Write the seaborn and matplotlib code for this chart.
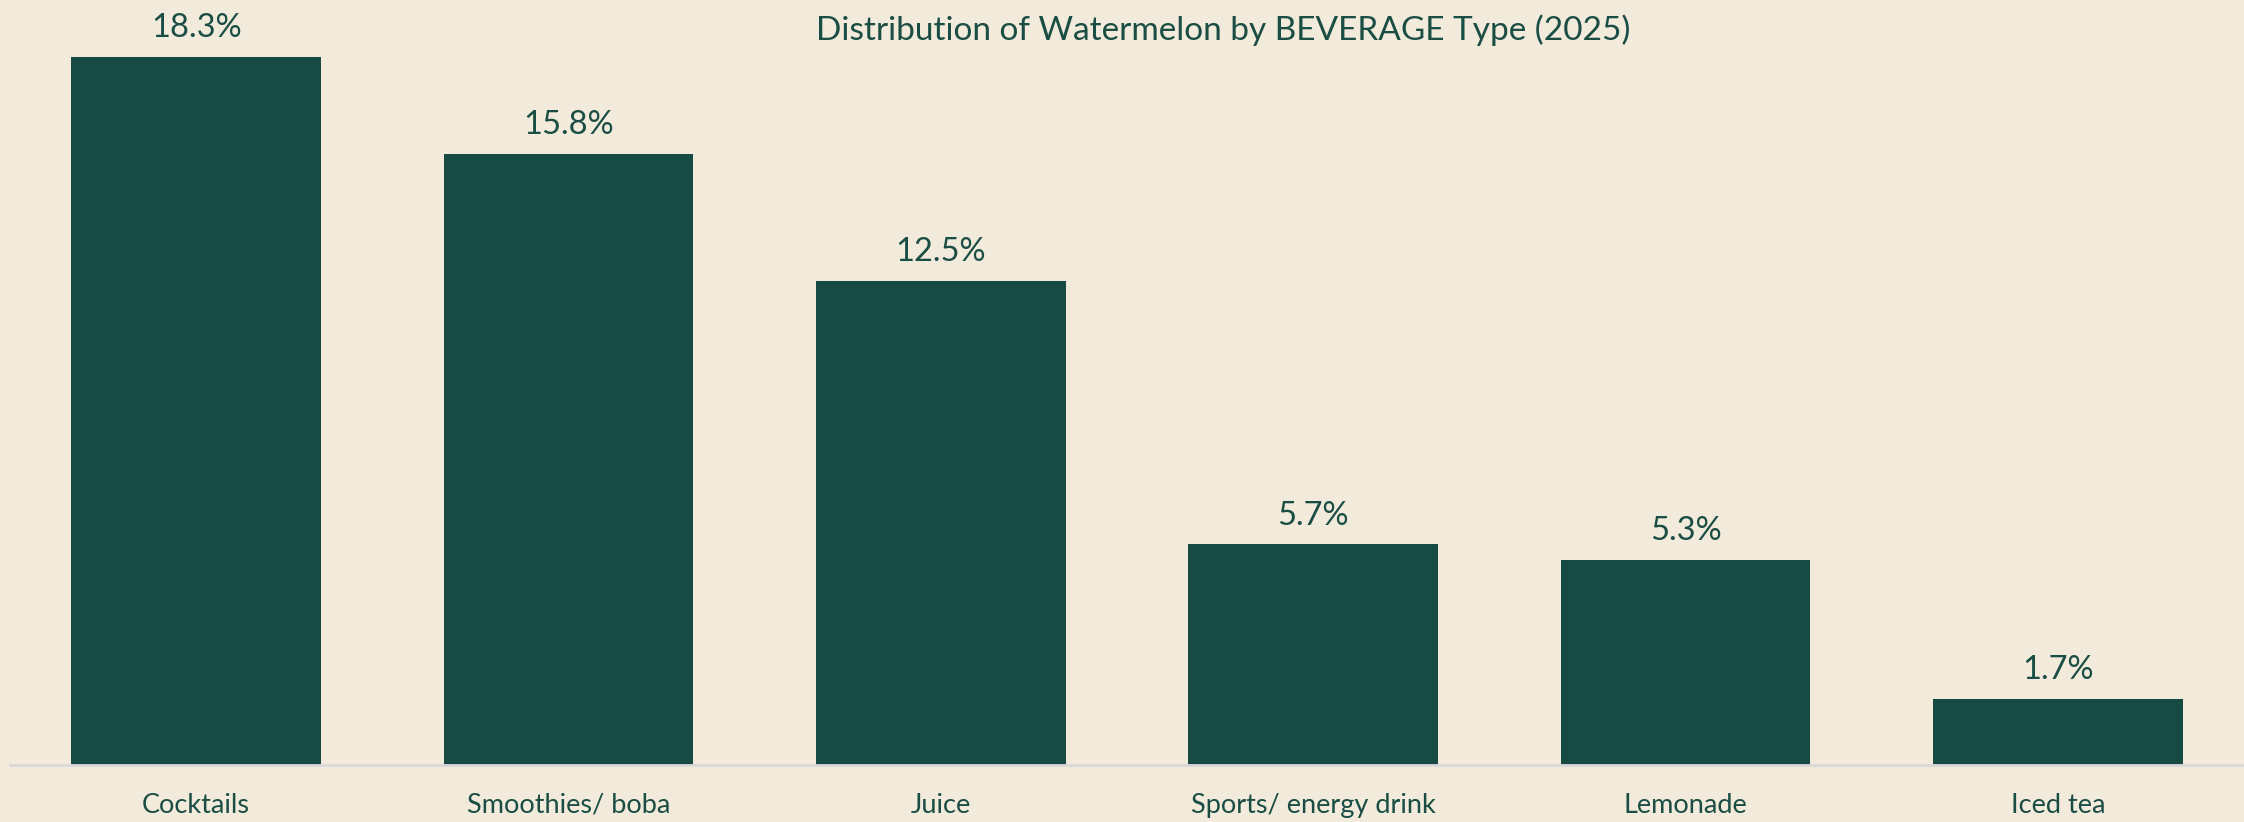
import seaborn as sns
import matplotlib.pyplot as plt
import pandas as pd

# dados do grafico
categorias = ["Cocktails", "Smoothies/ boba", "Juice", "Sports/ energy drink", "Lemonade", "Iced tea"]
valores = [18.3, 15.8, 12.5, 5.7, 5.3, 1.7]
rotulos = ["18.3%", "15.8%", "12.5%", "5.7%", "5.3%", "1.7%"]

fundo = "#F2EADA"
verde = "#164A42"
texto = "#1A4D44"

df = pd.DataFrame({"categoria": categorias, "valor": valores})

sns.set_theme(style="white")
plt.rcParams["font.family"] = ["Lato", "DejaVu Sans"]

fig = plt.figure(figsize=(22.44, 8.22), dpi=100, facecolor=fundo)
ax = fig.add_axes([10 / 2244, 57 / 822, 2234 / 2244, 765 / 822])
ax.set_facecolor(fundo)

sns.barplot(data=df, x="categoria", y="valor", color=verde, saturation=1,
            width=0.67, linewidth=0, edgecolor=verde, ax=ax)

ax.set_xlim(-0.5, 5.5)
ax.set_ylim(0, 19.77)

for i, (v, r) in enumerate(zip(valores, rotulos)):
    ax.annotate(r, (i, v), xytext=(0, 10), textcoords="offset points",
                ha="center", va="bottom", fontsize=23.5, color=texto)

# titulo um pouco deslocado para a direita, como no original
fig.text(0.545, 1 - 30 / 822, "Distribution of Watermelon by BEVERAGE Type (2025)",
         ha="center", va="center", fontsize=24, color=texto)

for s in ["top", "right", "left"]:
    ax.spines[s].set_visible(False)
ax.spines["bottom"].set_color("#D9D9D9")
ax.spines["bottom"].set_linewidth(2)
ax.set_yticks([])
ax.tick_params(axis="x", length=0, pad=20, labelsize=19.5, labelcolor=texto)
ax.set_xlabel("")
ax.set_ylabel("")

fig.savefig("out.png", dpi=100, facecolor=fundo)
